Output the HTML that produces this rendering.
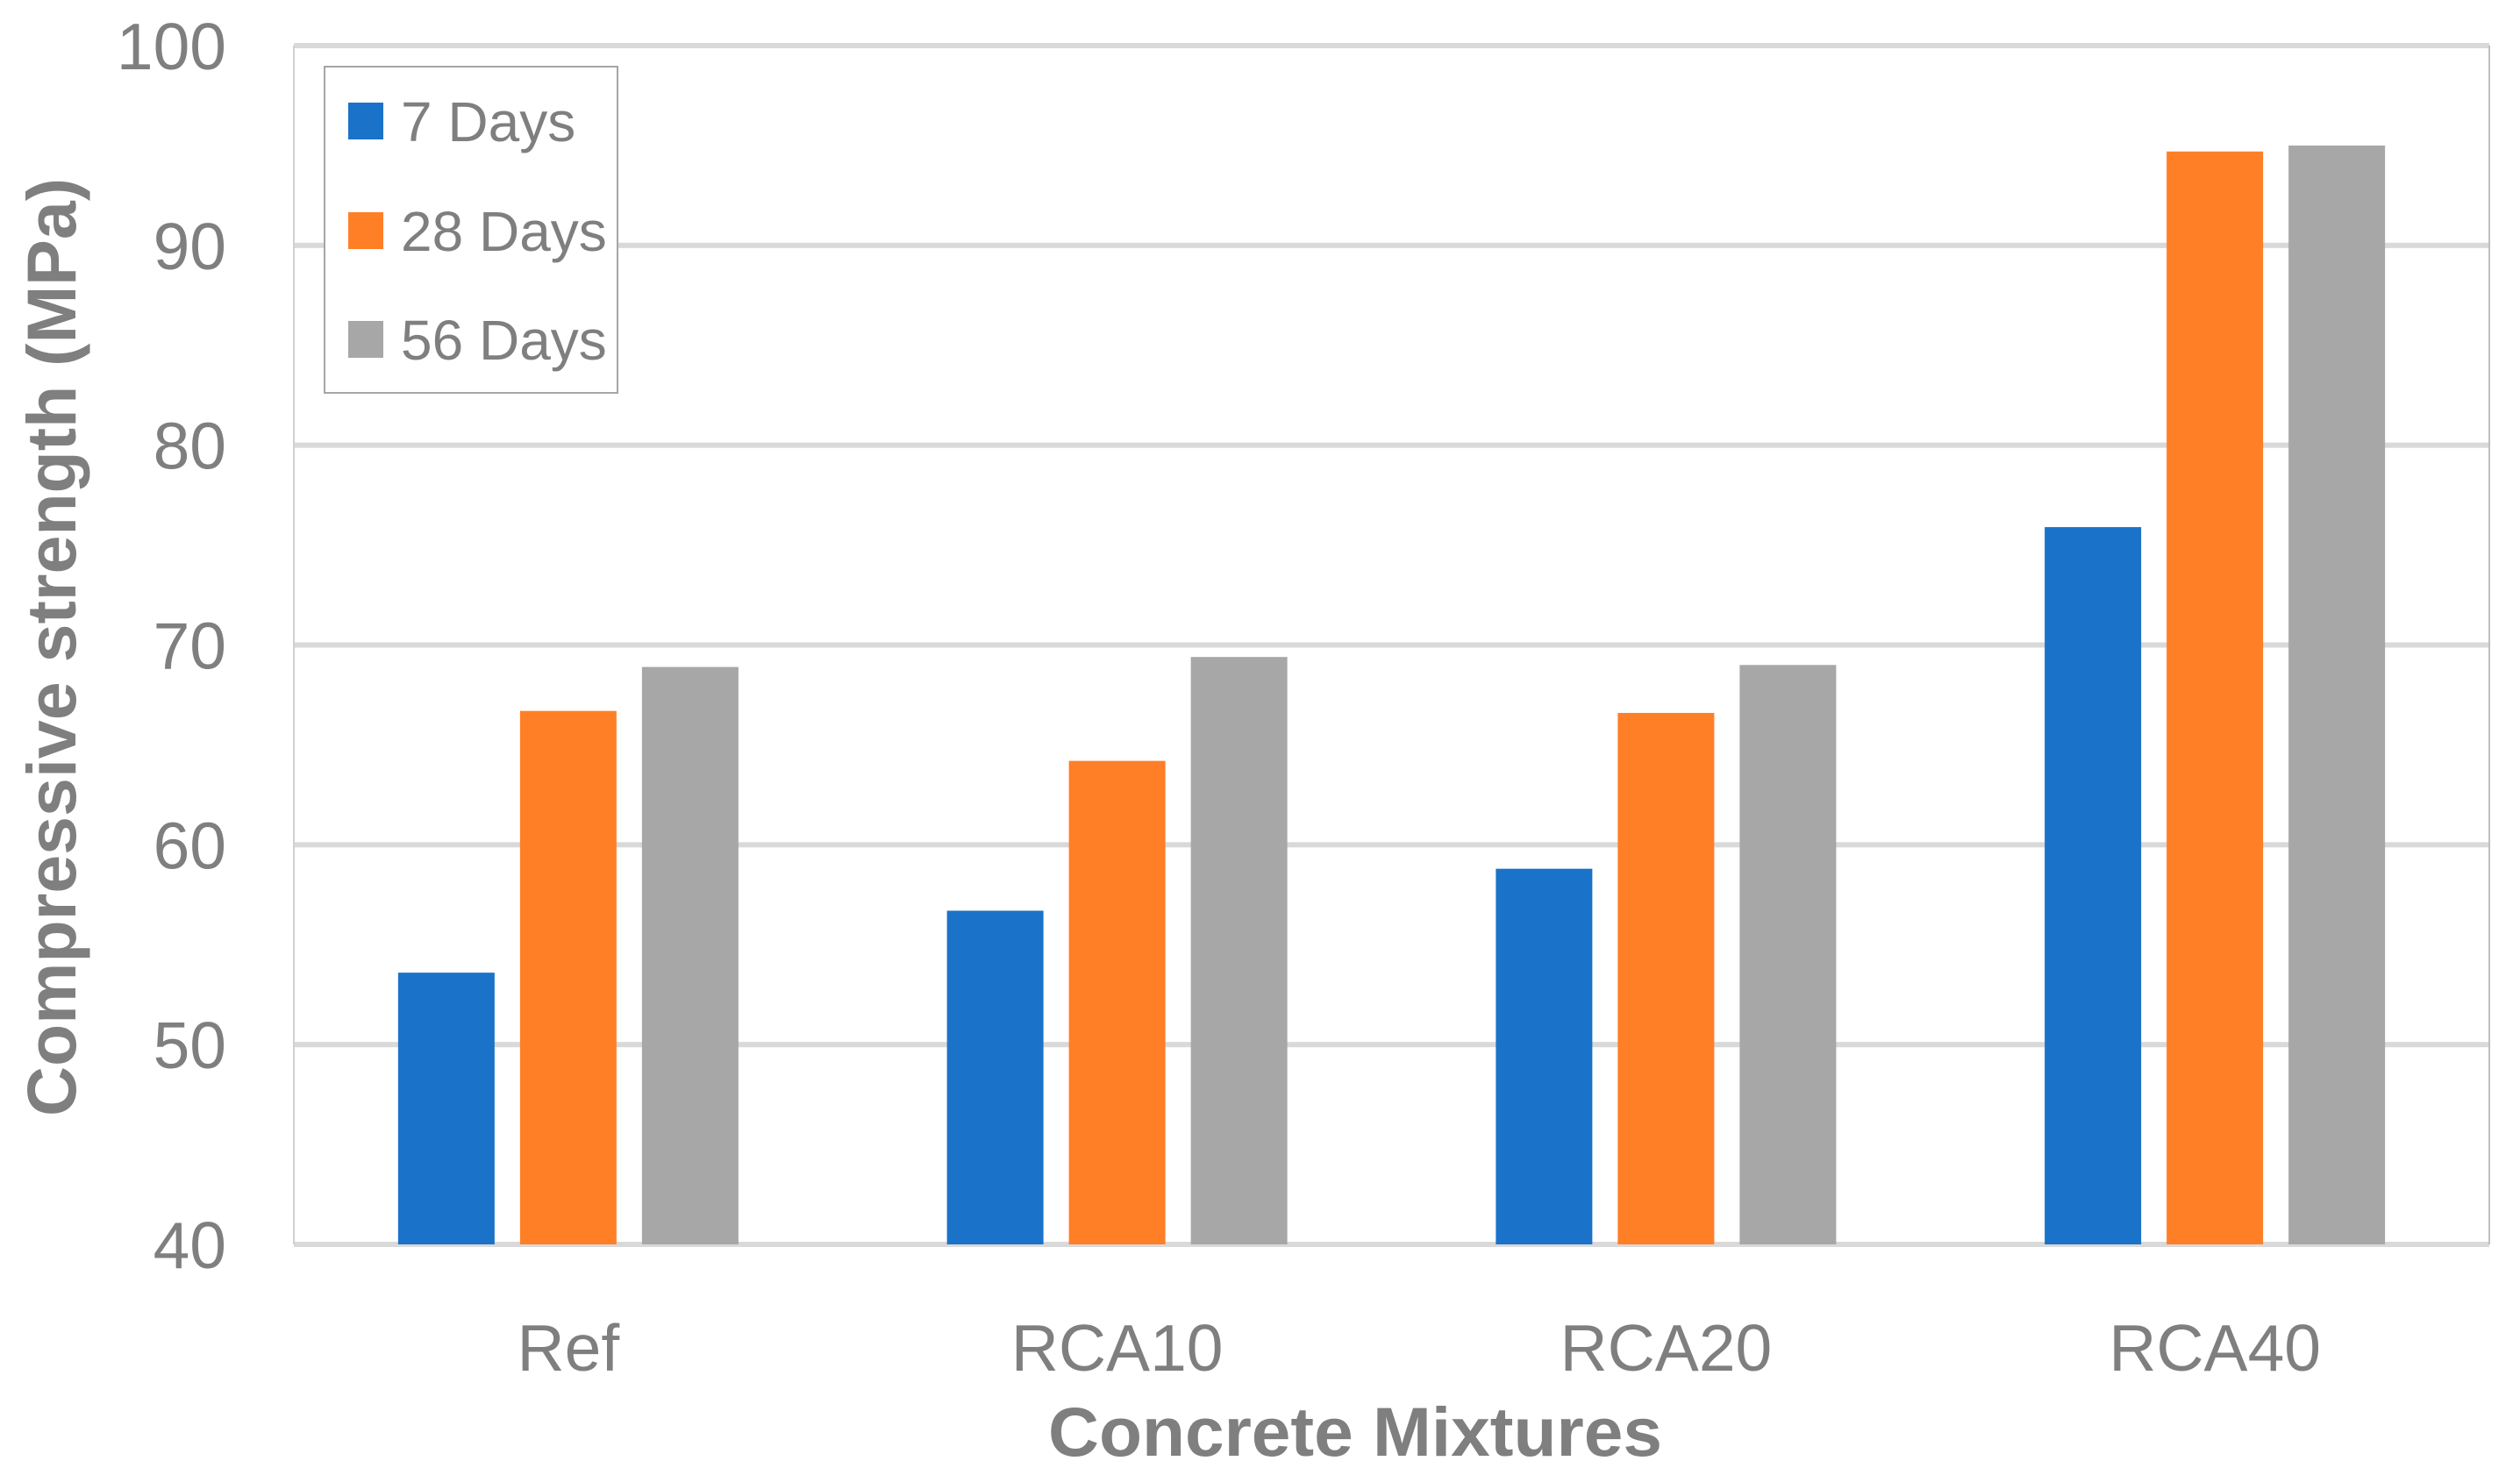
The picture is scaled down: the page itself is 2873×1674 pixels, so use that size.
<!DOCTYPE html>
<html><head><meta charset="utf-8"><style>
html,body{margin:0;padding:0;background:#fff;}
svg{display:block;}
text{font-family:"Liberation Sans",sans-serif;fill:#7f7f7f;}
</style></head><body>
<svg id="chart" width="2873" height="1674" viewBox="0 0 2873 1674" xmlns="http://www.w3.org/2000/svg">
<g id="grid"></g>
<g id="bars"></g>
<g id="yticks"></g>
<g id="xticks"></g>
<text transform="translate(86,738) rotate(-90)" text-anchor="middle" font-size="79" font-weight="bold" textLength="1070" lengthAdjust="spacingAndGlyphs">Compressive strength (MPa)</text>
<text x="1545" y="1660" text-anchor="middle" font-size="79" font-weight="bold" textLength="700" lengthAdjust="spacingAndGlyphs">Concrete Mixtures</text>
<g>
<rect x="370" y="76" width="334" height="372" fill="#fff" stroke="#a6a6a6" stroke-width="2"/>
<g id="legend-items"></g>
</g>
</svg>
<script>
const categories = ["Ref","RCA10","RCA20","RCA40"];
const seriesNames = ["7 Days","28 Days","56 Days"];
const days7 = [53.6,56.7,58.8,75.9];
const days28 = [66.7,64.2,66.6,94.7];
const days56 = [68.9,69.4,69.0,95.0];
const yTicks = [40,50,60,70,80,90,100];

const colors = ["#1a73c8","#ff7f27","#a7a7a7"];
const series = [days7,days28,days56];
const NS = "http://www.w3.org/2000/svg";
const L=335,R=2838,T=52,B=1419,yMin=40,yMax=100;
function y(v){return B-(v-yMin)/(yMax-yMin)*(B-T);}
const catW=(R-L)/categories.length;
function xc(i){return L+catW*(i+0.5);}
const barW=110, step=139;
function mk(tag,attrs,parent){const e=document.createElementNS(NS,tag);for(const k in attrs)e.setAttribute(k,attrs[k]);parent.appendChild(e);return e;}

const grid=document.getElementById('grid');
yTicks.forEach(t=>{
  const l=mk('rect',{x:L,y:y(t)-3,width:R-L,height:6,fill:'#d9d9d9'},grid);
  
  
  const tx=mk('text',{x:258,y:y(t)+27,'text-anchor':'end','font-size':75},document.getElementById('yticks'));
  tx.textContent=t;
  
  
});
const axl=mk('rect',{x:L-1,y:T,width:2,height:B-T,fill:'#d0d0d0'},grid);


const axr=mk('rect',{x:R-1,y:T,width:2,height:B-T,fill:'#c0c0c0'},grid);



const bars=document.getElementById('bars');
categories.forEach((c,i)=>{
  series.forEach((s,j)=>{
    const cx=xc(i)+(j-1)*step;
    const r=mk('rect',{x:cx-barW/2,y:y(s[i]),width:barW,height:y(yMin)-y(s[i]),fill:colors[j]},bars);
    
    
  });
  const t=mk('text',{x:xc(i),y:1563,'text-anchor':'middle','font-size':75},document.getElementById('xticks'));
  t.textContent=c;
  
  
});

const li=document.getElementById('legend-items');
const ly=[138,263,387];
seriesNames.forEach((n,j)=>{
  const g=mk('g',{},li);
  
  
  mk('rect',{x:397,y:ly[j]-21,width:40,height:42,fill:colors[j]},g);
  const t=mk('text',{x:457,y:ly[j]+23,'font-size':64},g);
  t.textContent=n;
});
</script>
</body></html>
